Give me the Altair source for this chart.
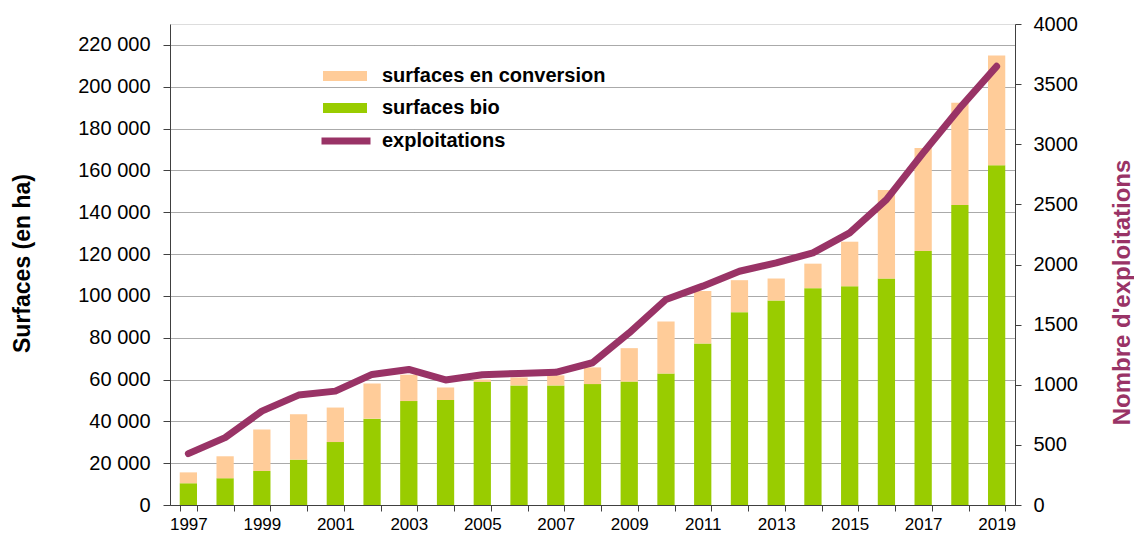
import altair as alt
import pandas as pd

years = list(range(1997, 2020))
bio = [10400, 12800, 16300, 21700, 30100, 41300, 49700, 50200, 58800, 57200, 57200, 57800,
       59000, 62900, 77200, 92200, 97800, 103700, 104600, 108300, 121500, 143500, 162400]
conversion = [5200, 10500, 19800, 21700, 16500, 16800, 12600, 6000, 1200, 3800, 4800, 8000,
              16000, 24800, 25100, 15300, 10500, 11700, 21300, 42300, 49200, 48800, 52500]
exploitations = [427, 560, 781, 914, 947, 1086, 1127, 1040, 1083, 1094, 1103, 1183,
                 1432, 1709, 1820, 1944, 2014, 2097, 2263, 2540, 2928, 3302, 3648]

s_conv = "surfaces en conversion"
s_bio = "surfaces bio"
s_line = "exploitations"

left_ticks = list(range(0, 220001, 20000))
right_ticks = list(range(0, 4001, 500))

rows = []
for y, b, c in zip(years, bio, conversion):
    rows.append({"annee": str(y), "serie": s_bio, "valeur": b, "ord": 0})
    rows.append({"annee": str(y), "serie": s_conv, "valeur": c, "ord": 1})
bars_df = pd.DataFrame(rows)
line_df = pd.DataFrame({"annee": [str(y) for y in years], "valeur": exploitations,
                        "serie": [s_line] * len(years)})

FONT = "Liberation Sans"

x_enc = alt.X(
    "annee:O",
    title=None,
    scale=alt.Scale(paddingInner=0.53, paddingOuter=0.265),
    axis=alt.Axis(
        labelAngle=0, tickBand="extent", tickSize=6, labelPadding=5,
        labelFontSize=17, labelColor="#000000", domainColor="#404040",
        tickColor="#404040", grid=False,
        labelExpr="toNumber(datum.value) % 2 == 1 ? datum.value : ''",
    ),
)

bars = alt.Chart(bars_df).mark_bar().encode(
    x=x_enc,
    y=alt.Y(
        "valeur:Q",
        stack="zero",
        scale=alt.Scale(domain=[0, 230000], nice=False),
        axis=alt.Axis(
            title="Surfaces (en ha)", values=left_ticks, tickSize=7, labelPadding=13,
            labelFontSize=20, labelColor="#000000",
            labelExpr="datum.value == 0 ? '0' : format(datum.value / 1000, 'd') + ' 000'",
            grid=True, gridColor="#555555", gridDash=[1, 1], gridWidth=1,
            domainColor="#404040", tickColor="#404040",
            titleFontSize=23, titleFontWeight="bold", titleColor="#000000",
            titleAngle=270, titleX=-148, titleY=239, titleAlign="center",
            titleBaseline="middle",
        ),
    ),
    color=alt.Color(
        "serie:N",
        scale=alt.Scale(domain=[s_conv, s_bio], range=["#FFCC99", "#99CC00"]),
        legend=alt.Legend(
            orient="none", legendX=153, legendY=30, title=None,
            symbolType="M-1,-0.23H1V0.23H-1Z", symbolSize=1936,
            symbolStrokeWidth=0, labelFontSize=20, labelFontWeight="bold",
            labelOffset=15, rowPadding=0, labelColor="#000000", labelLimit=400,
        ),
    ),
    order=alt.Order("ord:Q"),
)

line = alt.Chart(line_df).mark_line(strokeWidth=7, strokeCap="round", strokeJoin="round").encode(
    x=x_enc,
    y=alt.Y(
        "valeur:Q",
        scale=alt.Scale(domain=[0, 4000], nice=False),
        axis=alt.Axis(
            title="Nombre d'exploitations", orient="right", values=right_ticks,
            format="d", tickSize=6, labelPadding=12, labelFontSize=20,
            labelColor="#000000", grid=False, domainColor="#404040", tickColor="#404040",
            titleFontSize=24, titleFontWeight="bold", titleColor="#993366",
            titleAngle=270, titleX=107, titleY=268, titleAlign="center",
            titleBaseline="middle",
        ),
    ),
    stroke=alt.Stroke(
        "serie:N",
        scale=alt.Scale(domain=[s_line], range=["#993366"]),
        legend=alt.Legend(
            orient="none", legendX=148, legendY=89, title=None,
            symbolType="stroke", symbolSize=2401, symbolStrokeWidth=7,
            labelFontSize=20, labelFontWeight="bold", labelOffset=8,
            labelColor="#000000", labelLimit=400,
        ),
    ),
)

chart = (
    alt.layer(bars, line)
    .resolve_scale(y="independent", color="independent")
    .properties(
        width=845, height=481,
        autosize=alt.AutoSizeParams(type="none"),
        padding={"left": 162, "top": 16, "right": 119, "bottom": 29},
    )
    .configure_view(stroke=None)
    .configure(font=FONT)
    .configure_axis(labelFont=FONT, titleFont=FONT)
    .configure_legend(labelFont=FONT)
)

chart.save("out.html", embed_options={"renderer": "svg", "actions": False})
